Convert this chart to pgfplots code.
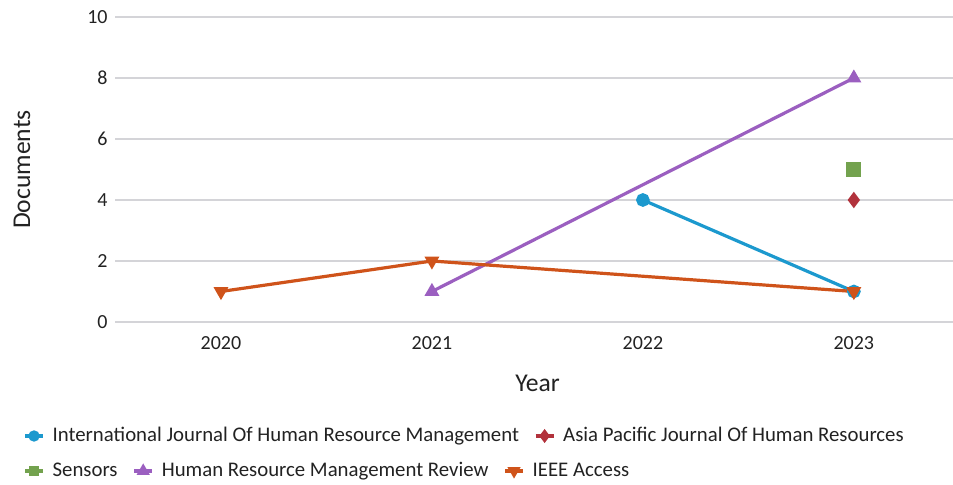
\documentclass[border=0pt]{standalone}
\usepackage{pgfplots}
\pgfplotsset{compat=1.18}
\usepackage{fontspec}
\setmainfont{Carlito}

\definecolor{cBlue}{HTML}{1C99CE}
\definecolor{cRed}{HTML}{B2323C}
\definecolor{cGreen}{HTML}{73A24E}
\definecolor{cPurple}{HTML}{9B5FC0}
\definecolor{cOrange}{HTML}{CF531A}
\definecolor{cGrid}{HTML}{D4D4D8}
\definecolor{cText}{HTML}{222222}

\pgfplotsset{
  docstyle/.style={
    scale only axis,
    width=418.75pt, height=152.5pt,
    xmin=-0.5, xmax=3.47,
    ymin=0, ymax=10,
    axis line style={draw=none},
    major tick length=0pt,
    tick label style={inner sep=0pt, font=\fontsize{10}{12}\selectfont, text=cText},
    /pgf/number format/assume math mode=true,
    legend style={
      draw=none, fill=none, inner sep=0pt,
      font=\fontsize{10.4}{12}\selectfont,
      text=cText,
      legend cell align=left,
      /tikz/every odd column/.append style={column sep=2pt},
      /tikz/every even column/.append style={column sep=5.5pt},
    },
    legend image code/.code={
      \draw[mark repeat=2,mark phase=2] plot coordinates {(0pt,0pt)(4.5pt,0pt)(9pt,0pt)};
    },
  },
}

\begin{document}
\begin{tikzpicture}
\begin{axis}[
  docstyle,
  xtick={0,1,2,3},
  xticklabels={2020,2021,2022,2023},
  xticklabel shift=7pt,
  ytick={0,2,4,6,8,10},
  yticklabel shift=3.75pt,
  ymajorgrids,
  grid style={cGrid, line width=0.6pt},
  xlabel={Year},
  ylabel={Documents},
  label style={font=\fontsize{12.8}{14}\selectfont, text=cText},
  xlabel style={at={(axis description cs:0.504,-0.2)}, anchor=center},
  ylabel style={at={(axis description cs:-0.1116,0.5)}, anchor=center},
  legend columns=-1,
  legend style={at={(axis description cs:-0.1104,-0.3738)}, anchor=west},
  every axis plot/.append style={line width=1.6pt},
]
  % International Journal Of Human Resource Management
  \addplot[color=cBlue, mark=*, mark size=2.6pt,
           legend image post style={mark size=2pt}]
    coordinates {(2,4) (3,1)};
  \addlegendentry{International Journal Of Human Resource Management}
  % Asia Pacific Journal Of Human Resources
  \addplot[color=cRed, mark=diamond*, mark size=2.8pt,
           legend image post style={mark size=2.2pt}]
    coordinates {(3,4)};
  \addlegendentry{Asia Pacific Journal Of Human Resources}
  % Sensors
  \addplot[color=cGreen, mark=square*, mark size=3pt, forget plot]
    coordinates {(3,5)};
  % Human Resource Management Review
  \addplot[color=cPurple, mark=triangle*, mark size=2.7pt, forget plot]
    coordinates {(1,1) (3,8)};
  % IEEE Access
  \addplot[color=cOrange, mark=triangle*, mark size=2.7pt, mark options={rotate=180}, forget plot]
    coordinates {(0,1) (1,2) (3,1)};
\end{axis}
% second legend row
\begin{axis}[
  docstyle,
  hide axis,
  legend columns=-1,
  legend style={at={(axis description cs:-0.1104,-0.4885)}, anchor=west},
  every axis plot/.append style={line width=1.6pt},
]
  \addlegendimage{color=cGreen, mark=square*, mark size=1.8pt}
  \addlegendentry{Sensors}
  \addlegendimage{color=cPurple, mark=triangle*, mark size=2.2pt}
  \addlegendentry{Human Resource Management Review}
  \addlegendimage{color=cOrange, mark=triangle*, mark size=2.2pt, mark options={rotate=180}}
  \addlegendentry{IEEE Access}
\end{axis}
\pgfresetboundingbox
\path[use as bounding box] (-57.75pt,-81.5pt) rectangle (418.75pt,161pt);
\end{tikzpicture}
\end{document}
